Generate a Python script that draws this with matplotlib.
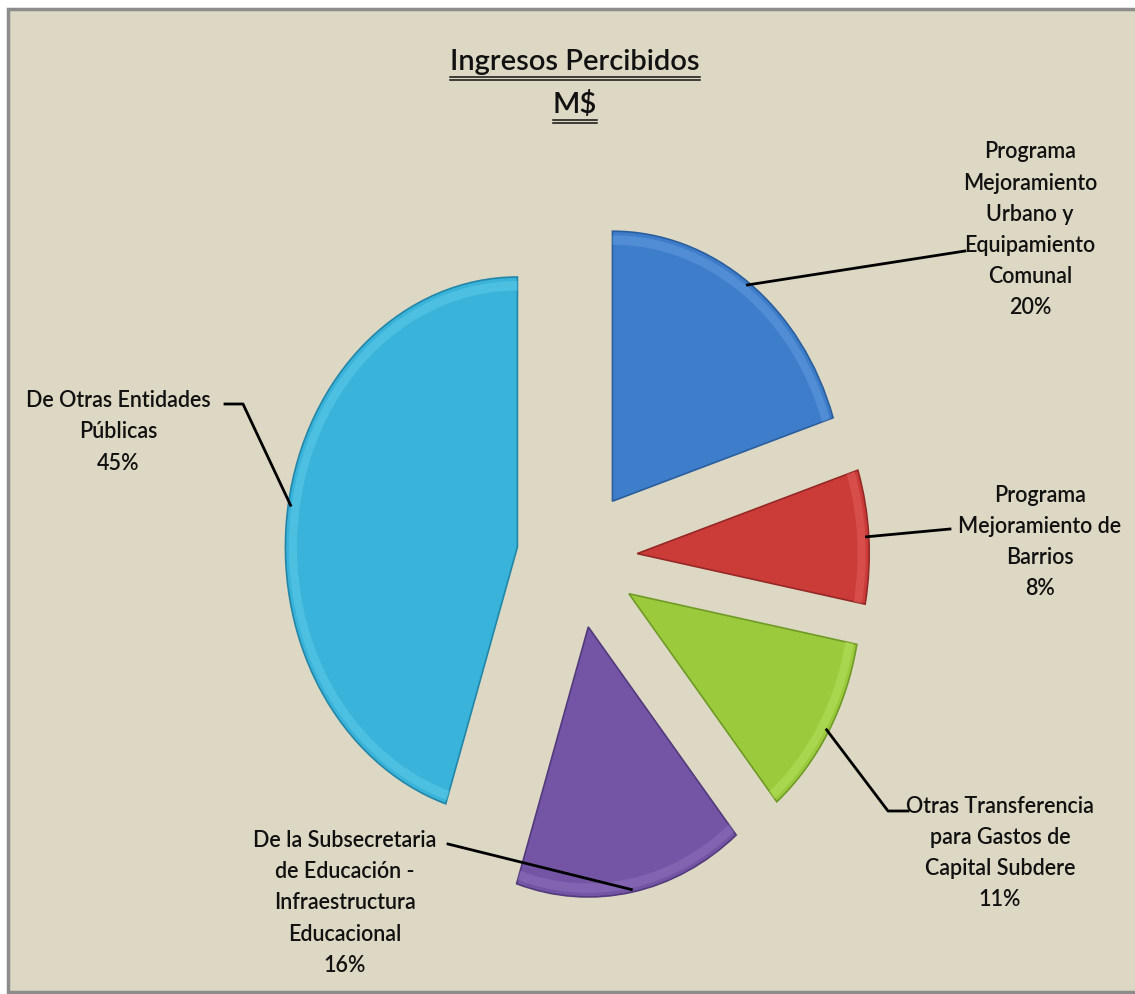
import matplotlib
matplotlib.use("Agg")
import matplotlib.pyplot as plt
import numpy as np
from matplotlib.patches import Rectangle, Wedge
from matplotlib.lines import Line2D

# ---- data ----
categories = [
    "Programa\nMejoramiento\nUrbano y\nEquipamiento\nComunal",
    "Programa\nMejoramiento de\nBarrios",
    "Otras Transferencia\npara Gastos de\nCapital Subdere",
    "De la Subsecretaria\nde Educación -\nInfraestructura\nEducacional",
    "De Otras Entidades\nPúblicas",
]
shares = [20, 8, 11, 16, 45]
pct_labels = ["20%", "8%", "11%", "16%", "45%"]
colors = ["#3D7DCA", "#CB3C39", "#9BCB3D", "#7454A4", "#39B3D9"]
edge_colors = ["#2A5E9E", "#952826", "#6F9A25", "#523A7C", "#2286A8"]
light_colors = ["#5F98DC", "#DE5A57", "#B2DE5A", "#8C6EBB", "#5CC8E8"]

title_lines = ["Ingresos Percibidos", "M$"]

FONT = ["Lato", "DejaVu Sans"]

W, H = 1135, 995
fig = plt.figure(figsize=(W / 100, H / 100), dpi=100)
fig.patch.set_facecolor("white")


def fp(px, py):
    return (px / W, 1 - py / H)


# frame / background
fig.add_artist(Rectangle((8 / W, 2 / H), (W + 10 - 8) / W, (993 - 10) / H,
                         transform=fig.transFigure, facecolor="#DDD8C3",
                         edgecolor="#8C8C8C", linewidth=2.5, zorder=0))

ax = fig.add_axes([0, 0, 1, 1])
ax.set_facecolor("none")

wedges, _ = ax.pie(shares, explode=[0.26] * len(shares), startangle=90,
                   counterclock=False, colors=colors, radius=1.0,
                   wedgeprops=dict(linewidth=1.2))
for w, ec, lc in zip(wedges, edge_colors, light_colors):
    w.set_edgecolor(ec)
    w.set_zorder(2)
    # soft bevel highlight along the rim
    ax.add_patch(Wedge(w.center, 0.985, w.theta1, w.theta2, width=0.035,
                       facecolor=lc, edgecolor="none", alpha=0.6, zorder=3))

cx, cy, rx, ry = 577, 559, 232, 270
ax.set_aspect("auto")
ax.set_xlim(-cx / rx, (W - cx) / rx)
ax.set_ylim(-(H - cy) / ry, cy / ry)
ax.axis("off")
fig.canvas.draw()


def wedge_point(w, r=1.0):
    ang = np.deg2rad((w.theta1 + w.theta2) / 2)
    x = w.center[0] + r * np.cos(ang)
    y = w.center[1] + r * np.sin(ang)
    return ax.transData.transform((x, y))


def pix(px, py):
    return (px, H - py)


# leader line label-side points (pixels); wedge end computed from the wedge
leaders = [
    [(965, 252)],
    [(950, 530)],
    [(888, 812), (908, 812)],
    [(448, 845)],
    [(243, 405), (225, 405)],
]
for w, pts in zip(wedges, leaders):
    start = wedge_point(w, 0.99)
    xs = [start[0]] + [pix(*p)[0] for p in pts]
    ys = [start[1]] + [pix(*p)[1] for p in pts]
    fig.add_artist(Line2D(xs, ys, transform=None, color="black",
                          linewidth=2, zorder=5))

# labels
label_pos = [(1030, 230), (1040, 542), (1000, 853), (345, 903), (118, 432)]
for cat, pct, (px, py) in zip(categories, pct_labels, label_pos):
    fig.text(*fp(px, py), cat + "\n" + pct, ha="center", va="center",
             multialignment="center", family=FONT, fontsize=15.5,
             fontweight="semibold", linespacing=1.6, color="#111111", zorder=6)

# title with double underline
t1 = fig.text(*fp(575, 62), title_lines[0], ha="center", va="center",
              family=FONT, fontsize=21, fontweight="semibold", color="#111111")
t2 = fig.text(*fp(575, 104), title_lines[1], ha="center", va="center",
              family=FONT, fontsize=21, fontweight="semibold", color="#111111")
fig.canvas.draw()
for t, uy in [(t1, 78), (t2, 121)]:
    bb = t.get_window_extent()
    for dy in (0, 3):
        fig.add_artist(Line2D([bb.x0, bb.x1], [H - uy - dy, H - uy - dy],
                              transform=None, color="#111111", linewidth=1.1))

fig.savefig("out.png", dpi=100)
